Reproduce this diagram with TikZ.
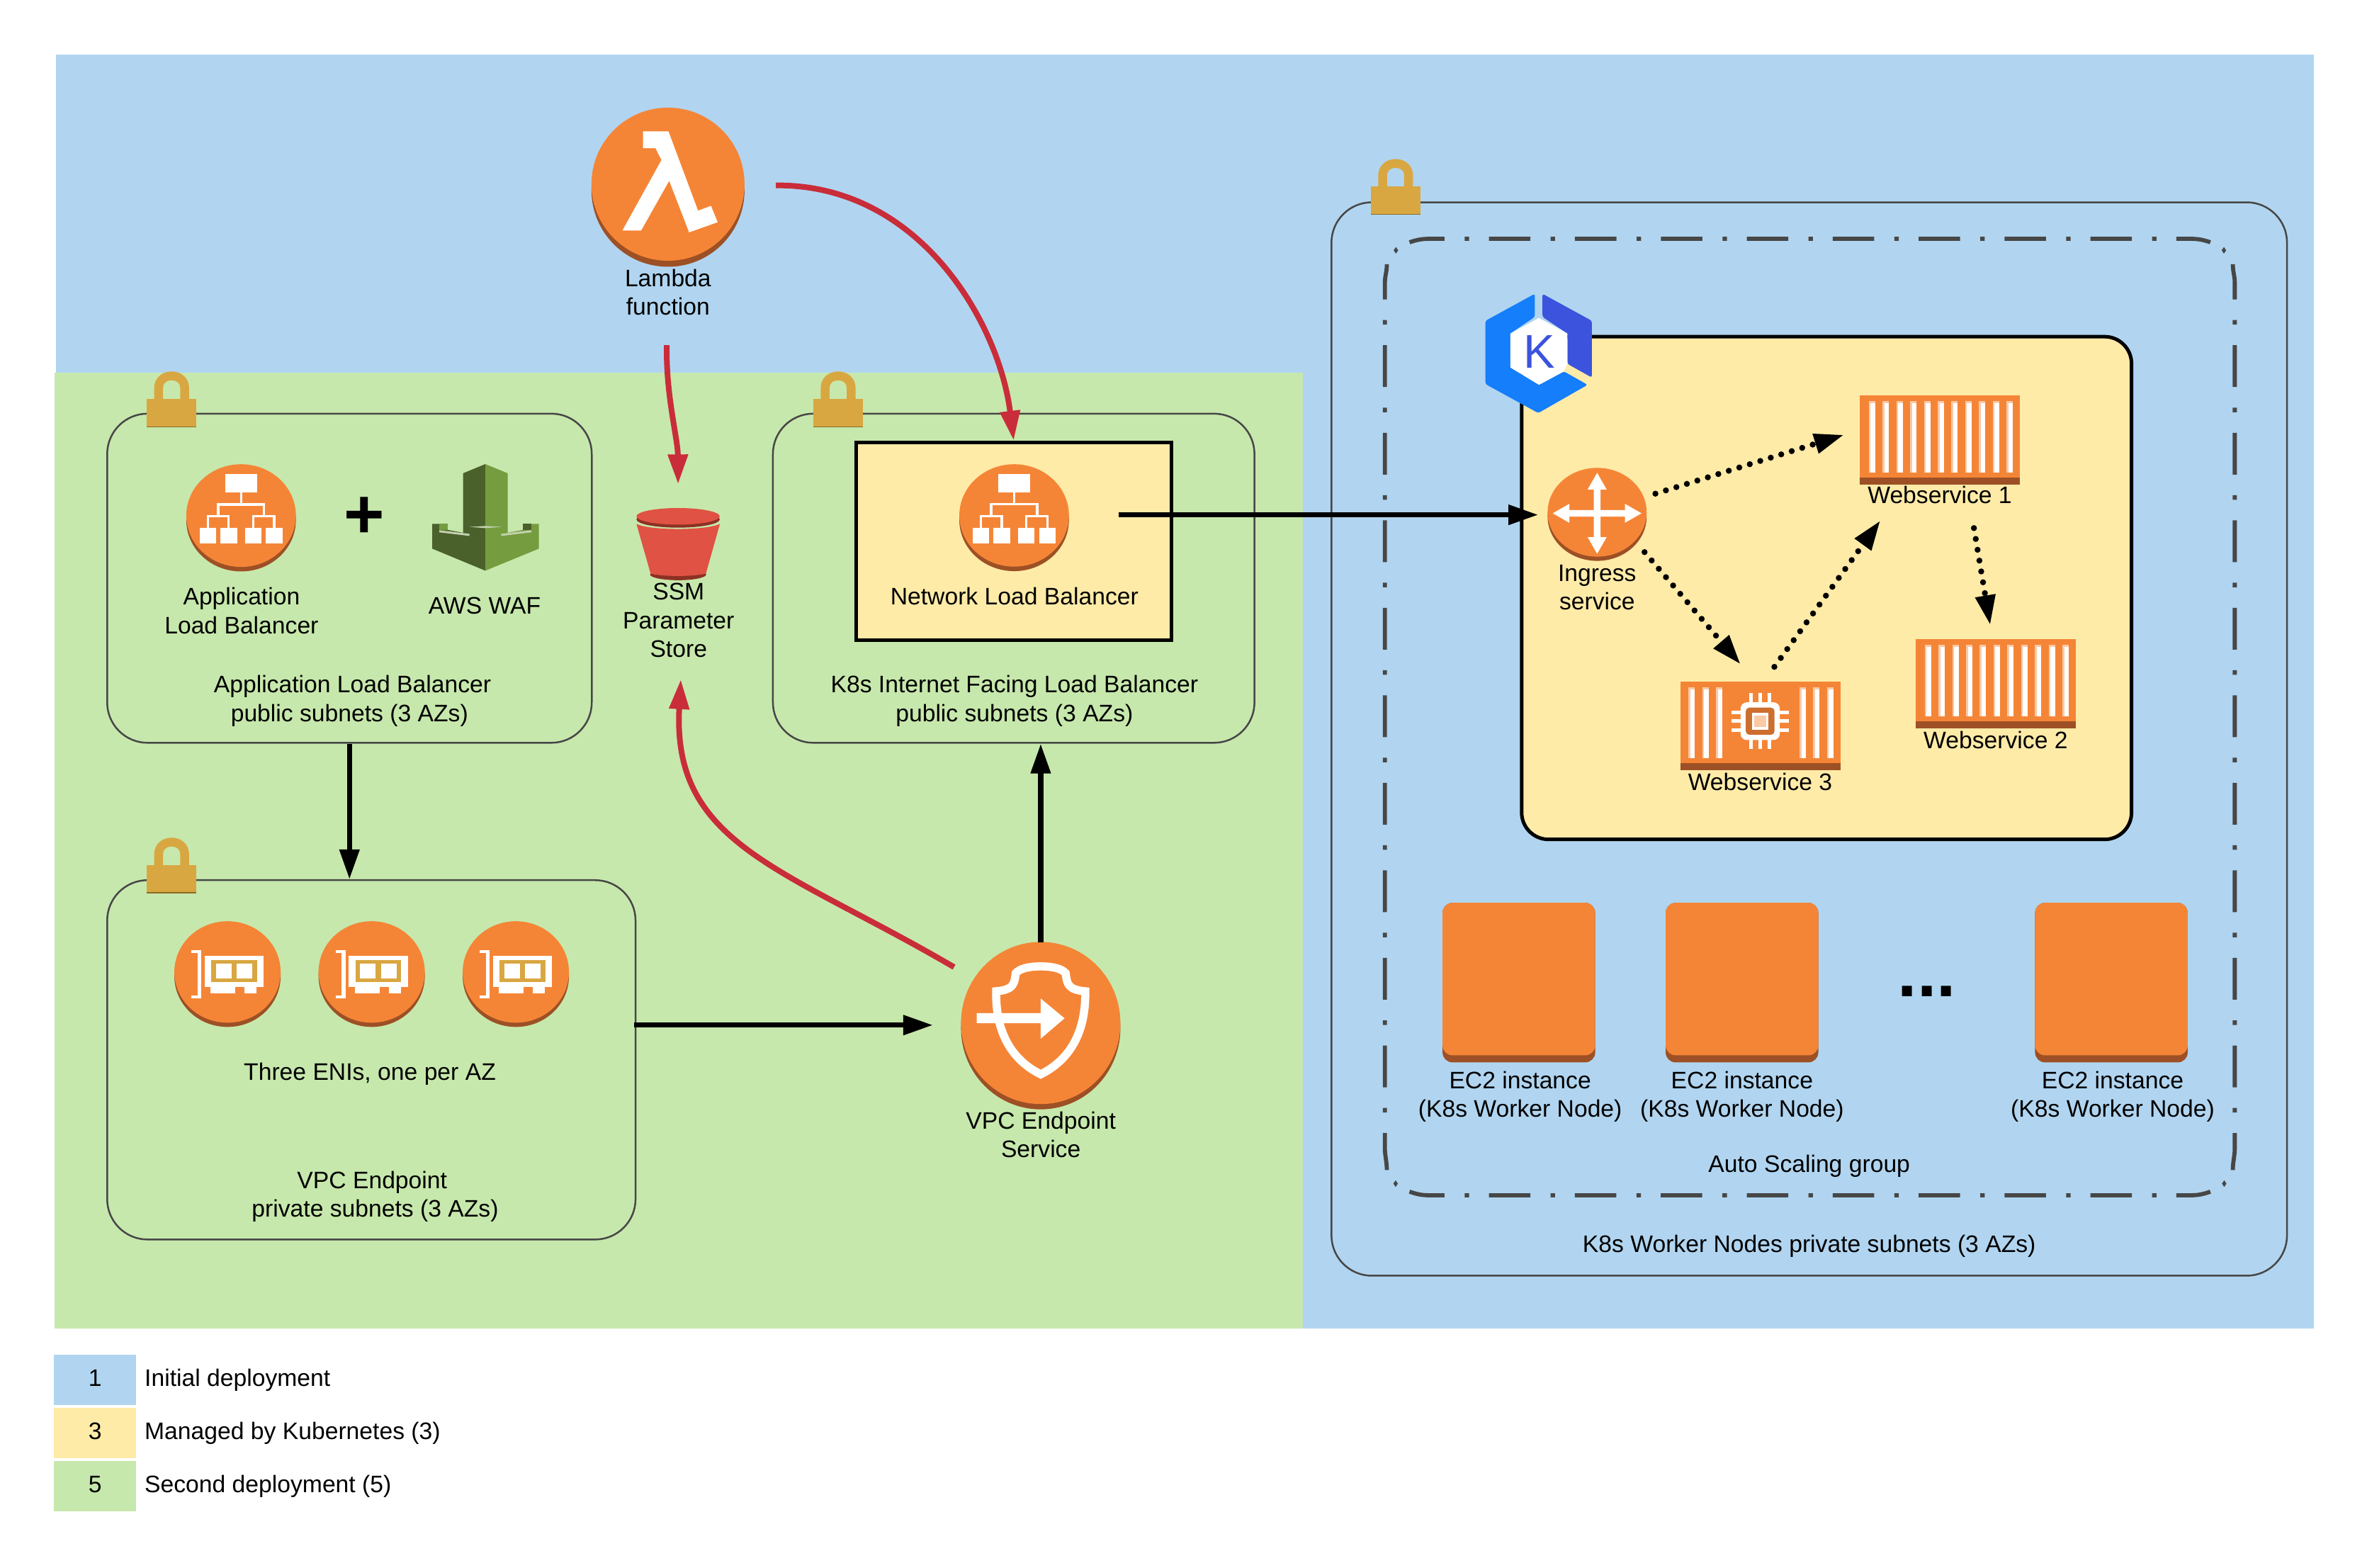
\documentclass[tikz,border=0pt]{standalone}
\usepackage{fontspec}
\setmainfont{Liberation Sans}
\usetikzlibrary{arrows.meta,fit}

\definecolor{bgblue}{HTML}{B1D5F0}
\definecolor{bggreen}{HTML}{C7E8AC}
\definecolor{bgyellow}{HTML}{FFEBA8}
\definecolor{awsorange}{HTML}{F58536}
\definecolor{awsdark}{HTML}{9D5025}
\definecolor{awspale}{HTML}{FBC9A6}
\definecolor{chipdark}{HTML}{CC6E2E}
\definecolor{lockgold}{HTML}{D9A741}
\definecolor{lockdark}{HTML}{8A6A24}
\definecolor{arrowred}{HTML}{C92D39}
\definecolor{bucketred}{HTML}{E05243}
\definecolor{bucketdark}{HTML}{8C3123}
\definecolor{waflight}{HTML}{759C3E}
\definecolor{wafdark}{HTML}{4B612C}
\definecolor{wafpale}{HTML}{C3D1AE}
\definecolor{k8sblue}{HTML}{147EFB}
\definecolor{k8spurple}{HTML}{3C53DD}
\definecolor{linegrey}{HTML}{474747}

\tikzset{
  lbl/.style={font=\fontsize{9.58}{11.5}\selectfont, align=center, inner sep=0pt, text=black},
  subnet/.style={draw=linegrey, line width=.025cm, rounded corners=.57cm, inner sep=0pt},
  flow/.style={line width=.072cm, -{Triangle[length=.42cm,width=.27cm]}},
  redflow/.style={draw=arrowred, line width=.08cm, -{Triangle[length=.42cm,width=.27cm]}},
  dotflow/.style={line width=.085cm, line cap=round, dash pattern=on 0pt off .155cm, -{Triangle[length=.42cm,width=.27cm]}},
  bigsign/.style={font=\fontsize{28}{28}\selectfont\bfseries, inner sep=0pt},
  asgwide/.style={draw=linegrey, line width=.058cm, dash pattern=on .585cm off .285cm on .0625cm off .28cm, dash phase=.085cm},
  asgtall/.style={draw=linegrey, line width=.058cm, dash pattern=on .59cm off .29cm on .065cm off .29cm, dash phase=.09cm},
  pics/disc/.style args={#1/#2/#3}{code={
    \fill[awsdark] (0,#3) ellipse (#1 and #2);
    \fill[awsorange] (0,0) ellipse (#1 and #2);
  }},
  pics/lock/.style={code={
    \draw[lockgold, line width=.125cm] (7.9,18.4) -- (7.9,11) .. controls (7.9,.3) and (25.1,.3) .. (25.1,11) -- (25.1,18.4);
    \fill[lockgold] (0,18.2) rectangle (33,36.6);
    \fill[lockdark] (0,36.3) rectangle (33,36.8);
  }},
  pics/lbtree/.style={code={
    \fill[white] (-10.5,-27.4) rectangle (10.5,-15.1);
    \foreach \x in {-27.5,-13.7,2.6,16.5} {
      \fill[white] (\x,8.3) rectangle ++(11,10.1);
    }
    \draw[white, line width=.035cm] (0,-15.1) -- (0,-7.4) (-15.2,.4) -- (-15.2,-7.4) -- (15.2,-7.4) -- (15.2,.4)
      (-22,8.3) -- (-22,.4) -- (-8.3,.4) -- (-8.3,8.3) (8.1,8.3) -- (8.1,.4) -- (22,.4) -- (22,8.3);
  }},
  pics/enicard/.style={code={
    \fill[white] (-23.8,-14.3) rectangle (-17.3,-12.7);
    \fill[white] (-23.8,15.8) rectangle (-17.3,17.4);
    \fill[white] (-19.9,-14.3) rectangle (-17.3,17.4);
    \fill[white] (-15.1,-10.8) rectangle (23.9,9.8);
    \fill[lockgold] (-10.8,-7.9) rectangle (19.6,6.8);
    \fill[white] (-7.7,-5.5) rectangle (2.7,4.3);
    \fill[white] (6.1,-5.5) rectangle (16.6,4.3);
    \fill[white] (-11.2,9.8) rectangle (5.3,14.2);
    \fill[white] (11.3,9.8) rectangle (19.2,14.2);
  }},
  pics/container/.style={code={
    \fill[awsorange] (0,0) rectangle (106,54.5);
    \fill[awsdark] (0,54.2) rectangle (106,59);
  }},
  pics/stripe/.style={code={
    \fill[awspale] (0,3.8) rectangle (4.2,51);
    \fill[white] (1.2,5.2) rectangle (4.2,51);
  }},
  pics/chip/.style={code={
    \foreach \d in {-6,0,6} {
      \draw[white, line width=.05cm] (\d,-18.5) -- (\d,18.5);
      \draw[white, line width=.05cm] (-19,\d) -- (19,\d);
    }
    \fill[white, rounded corners=.09cm] (-13,-12.5) rectangle (13,12.5);
    \fill[chipdark, rounded corners=.05cm] (-9.5,-9) rectangle (9.5,9);
    \fill[white] (-5.5,-5.5) rectangle (5.5,5.5);
    \fill[awspale] (-3.8,-3.8) rectangle (3.8,3.8);
  }},
}

\begin{document}
\begin{tikzpicture}
  [
    x=.021308cm, y=-.021308cm,
  ]
  \useasboundingbox (0,0) rectangle (1568,1038.6);

  % backgrounds
  \fill[bgblue] (37,36) rectangle (1533,880);
  \fill[bggreen] (36,247) rectangle (863,880);

  % subnets
  \node[subnet, fit={(71,274) (392,492)}] (albbox) {};
  \node[subnet, fit={(512,274) (831,492)}] (nlbbox) {};
  \node[subnet, fit={(71,583) (421,821)}] (enibox) {};
  \node[subnet, fit={(882,134) (1515,845)}] (workerbox) {};

  % auto scaling group
  \foreach \y/\e in {158.2/160.5,791.7/789.3} {
    \draw[asgwide] (933.7,\e) .. controls (937,{(\e+\y)/2}) and (941,\y) .. (946,\y) -- (1452,\y)
      .. controls (1457,\y) and (1461,{(\e+\y)/2}) .. (1464.2,\e);
  }
  \foreach \x/\e in {917.4/918.7,1480.4/1479.1} {
    \draw[asgtall] (\e,175) .. controls (\e,180) and (\x,183) .. (\x,187) -- (\x,761)
      .. controls (\x,765) and (\e,770) .. (\e,775);
  }
  \foreach \x/\y in {924.7/165.8,1473.2/165.8,924.5/784,1473.4/784} {
    \fill[linegrey] (\x-1.5,\y) -- (\x,\y-2.2) -- (\x+1.5,\y) -- (\x,\y+2.2) -- cycle;
  }

  \node[draw=black, fill=bgyellow, line width=.05cm, inner sep=0pt, fit={(567,293) (776,424)}] (nlbzone) {};
  \node[draw=black, fill=bgyellow, line width=.05cm, rounded corners=.38cm, inner sep=0pt, fit={(1008,223) (1412,556)}] (k8szone) {};

  % locks
  \foreach \x/\y in {97.2/246,538.7/246,97.2/554.8,908/105.3} {
    \pic at (\x,\y) {lock};
  }

  % lambda
  \pic at (442.5,122) {disc={50.7/50.7/4}};
  \fill[white] (426,87) -- (442.8,87) -- (462.4,139.5) -- (471,136.4) -- (475.4,147.2) -- (456.5,153.9)
    -- (443.3,119.7) -- (424.7,152.7) -- (412.3,152.7) -- (438.2,106) -- (434.2,98.1) -- (426,98.1) -- cycle;
  \node[lbl] (lambdalabel) at (442.5,193.5) {Lambda\\function};

  % ssm bucket
  \fill[bucketdark] (449.2,380.5) ellipse (18.6 and 3.8);
  \fill[bucketred] (421.6,347) -- (431,380) .. controls (440,382) and (458,382) .. (467.6,380) -- (476.9,347)
    .. controls (468,351.5) and (430,351.5) .. cycle;
  \fill[bucketdark] (449.2,344) ellipse (27.6 and 5.5);
  \fill[bucketred] (449.2,342) ellipse (27.6 and 5.5);
  \node[lbl] (ssmlabel) at (449.5,411) {SSM\\Parameter\\Store};

  % application load balancer and waf
  \pic at (159.7,341.5) {disc={36.3/34/3}};
  \pic at (159.7,341.5) {lbtree};
  \node[lbl] (alblabel) at (160,404.5) {Application\\Load Balancer};
  \node[bigsign] (plus) at (241.5,343) {+};
  \fill[wafdark] (321.5,307.4) -- (306.7,313.5) -- (306.7,352.9) -- (296.6,351) -- (296.6,347) -- (286.3,347) -- (286.3,363.4) -- (321.5,378) -- cycle;
  \fill[waflight] (321.5,307.4) -- (336.3,313.5) -- (336.3,352.9) -- (346.4,351) -- (346.4,347) -- (357,347) -- (357,363.4) -- (321.5,378) -- cycle;
  \fill[waflight] (291,351.2) -- (296.6,351) -- (296.6,347) -- (291,347) -- cycle;
  \fill[wafdark] (346.4,351.2) -- (352,351.2) -- (352,347) -- (346.4,347) -- cycle;
  \fill[wafpale] (311,349) -- (321.5,348.4) -- (332.5,349) -- (321.5,349.8) -- cycle;
  \fill[wafpale] (291,351.2) -- (311,353.6) -- (311,355) -- (291,352.6) -- cycle;
  \fill[wafpale] (352,351.2) -- (332,353.6) -- (332,355) -- (352,352.6) -- cycle;
  \node[lbl] (waflabel) at (321,401) {AWS WAF};
  \node[lbl] (albsubnets) at (233.5,464.3) {Application Load Balancer\\public subnets (3 AZs)\hspace*{2.4pt}};

  % network load balancer
  \pic at (671.8,341.4) {disc={36.3/33.9/3}};
  \pic at (671.8,341.4) {lbtree};
  \node[lbl] (nlblabel) at (672,395) {Network Load Balancer};
  \node[lbl] (nlbsubnets) at (672,464.3) {K8s Internet Facing Load Balancer\\public subnets (3 AZs)};

  % enis
  \foreach \x in {150.7,246.2,341.7} {
    \pic at (\x,643.8) {disc={35.2/33.6/2.8}};
    \pic at (\x,643.8) {enicard};
  }
  \node[lbl] (enilabel) at (245,711.3) {Three ENIs, one per AZ};
  \node[lbl] (enisubnets) at (248.5,792.5) {VPC Endpoint\hspace*{2.4pt}\\private subnets (3 AZs)};

  % vpc endpoint service
  \pic at (689.4,677.6) {disc={52.8/53.7/3.5}};
  \begin{scope}[shift={(689.4,677.6)}]
    \draw[white, line width=.115cm]
      (0,-37.5) .. controls (-8,-37.5) and (-14,-36) .. (-16.5,-33) .. controls (-17.5,-27) and (-17,-22) .. (-29.5,-21)
      -- (-29.5,-17) .. controls (-29,3) and (-22,23) .. (0,34)
      .. controls (22,23) and (29,3) .. (29.5,-17) -- (29.5,-21)
      .. controls (17,-22) and (17.5,-27) .. (16.5,-33) .. controls (14,-36) and (8,-37.5) .. (0,-37.5) -- cycle;
    \fill[white] (-42.4,-6.5) -- (0,-6.5) -- (0,-16.2) -- (15.8,-3.1) -- (0,10.4) -- (0,.1) -- (-42.4,.1) -- cycle;
  \end{scope}
  \node[lbl] (vpclabel) at (689.5,751.6) {VPC Endpoint\\Service};

  % kubernetes logo
  \fill[k8sblue, rounded corners=.03cm] (1016.7,194.6) -- (984,212.5) -- (984,254.4) -- (1019,273.6) -- (1051.7,254.9) -- (1036,246)
    -- (1019.5,254.9) -- (1000.5,243.4) -- (1000.5,220.9) -- (1016.7,209.9) -- cycle;
  \fill[k8spurple, rounded corners=.03cm] (1021.8,194.6) -- (1054.5,212.5) -- (1054.5,250.1) -- (1038.3,241) -- (1038.3,220.9) -- (1021.8,209.9) -- cycle;
  \fill[white] (1019.5,210.6) -- (1038.3,220.9) -- (1038.3,241) -- (1036,246) -- (1019.5,254.9) -- (1000.5,243.4) -- (1000.5,220.9) -- cycle;
  \node[font=\fontsize{19}{19}\selectfont, text=k8spurple, inner sep=0pt] (k8sletter) at (1019.5,233) {K};

  % ingress
  \pic at (1058,339.3) {disc={32.8/29.4/2.8}};
  \foreach \a/\l in {0/18.4,90/15.8,180/18.4,270/15.8} {
    \fill[white, rotate around={\a:(1058,340)}] (1058,340) ++(0,-2.2) -- ++(\l,0) -- ++(0,-4.1) -- ++(11,6.3) -- ++(-11,6.3) -- ++(0,-4.1) -- ++(-\l,0) -- cycle;
  }
  \node[lbl] (ingresslabel) at (1058,389) {Ingress\\service};

  % webservices
  \pic at (1232,262) {container};
  \foreach \i in {0,...,10} {
    \pic at (1238+9.12*\i,262) {stripe};
  }
  \node[lbl] (ws1label) at (1285,328) {Webservice 1};
  \pic at (1269,423.5) {container};
  \foreach \i in {0,...,10} {
    \pic at (1275+9.12*\i,423.5) {stripe};
  }
  \node[lbl] (ws2label) at (1322,490) {Webservice 2};
  \pic at (1113.3,451.3) {container};
  \foreach \x in {5.2,14.3,23.4,78.9,87.9,96.9} {
    \pic at (1113.3+\x,451.3) {stripe};
  }
  \pic at (1166,477.7) {chip};
  \node[lbl] (ws3label) at (1166,518) {Webservice 3};

  % worker nodes
  \foreach \i/\x/\l in {1/955.6/1007,2/1103.4/1154,3/1348.1/1399.5} {
    \fill[awsdark, rounded corners=.14cm] (\x,598) rectangle ++(101.1,105.7);
    \fill[awsorange, rounded corners=.14cm] (\x,598) rectangle ++(101.1,101);
    \node[lbl] (ec2label\i) at (\l,726.3) {EC2 instance\\(K8s Worker Node)};
  }
  \node[bigsign, anchor=base] (moredots) at (1276.5,660.2) {...};
  \node[lbl] (asglabel) at (1198.5,772.5) {Auto Scaling group};
  \node[lbl] (workerlabel) at (1198.5,825.5) {K8s Worker Nodes private subnets (3 AZs)};

  % free ends of the connectors
  \coordinate (lambdaout) at (514,122.8);
  \coordinate (lambdadown) at (441.7,228.6);
  \coordinate (ssmin) at (449.2,320.7);
  \coordinate (vpcout) at (632,640.6);
  \coordinate (ssmback) at (451,450);
  \coordinate (nlbout) at (741,341);
  \coordinate (ingressin) at (1019,341);
  \coordinate (eniout) at (420,679);
  \coordinate (vpcin) at (618,679);
  \coordinate (vpcup) at (689.4,624);
  \coordinate (ingressne) at (1096.6,327);
  \coordinate (ws1in) at (1221.5,288);
  \coordinate (ingressse) at (1089.4,365.7);
  \coordinate (ws3in) at (1153,440);
  \coordinate (ws3out) at (1175.4,441.7);
  \coordinate (ws1back) at (1245.6,344.8);
  \coordinate (ws1out) at (1307.6,349.8);
  \coordinate (ws2in) at (1318.4,414);

  % connectors
  \draw[flow] (nlbout) -- (ingressin);
  \draw[flow] (albbox.south) -- (albbox.south |- enibox.north);
  \draw[flow] (eniout) -- (vpcin);
  \draw[flow] (vpcup) -- (vpcup |- nlbbox.south);
  \draw[redflow] (lambdaout) .. controls (610,122) and (662,215) .. (nlbzone.north);
  \draw[redflow] (lambdadown) .. controls (441,262) and (449,290) .. (ssmin);
  \draw[redflow] (vpcout) .. controls (520,575) and (445,560) .. (ssmback);
  \draw[dotflow] (ingressne) -- (ws1in);
  \draw[dotflow] (ingressse) -- (ws3in);
  \draw[dotflow] (ws3out) -- (ws1back);
  \draw[dotflow] (ws1out) -- (ws2in);

  % legend
  \foreach \i/\y/\c/\n/\t in {1/897.3/bgblue/1/Initial deployment,2/932.5/bgyellow/3/Managed by Kubernetes (3),3/967.7/bggreen/5/Second deployment (5)} {
    \node[fill=\c, inner sep=0pt, fit={(35.8,\y) (90.2,\y+33.2)}] (legendbox\i) {};
    \node[lbl] (legendnum\i) at (63,\y+15.5) {\n};
    \node[lbl, anchor=west] (legendtext\i) at (95.5,\y+16.6) {\t};
  }
\end{tikzpicture}
\end{document}
